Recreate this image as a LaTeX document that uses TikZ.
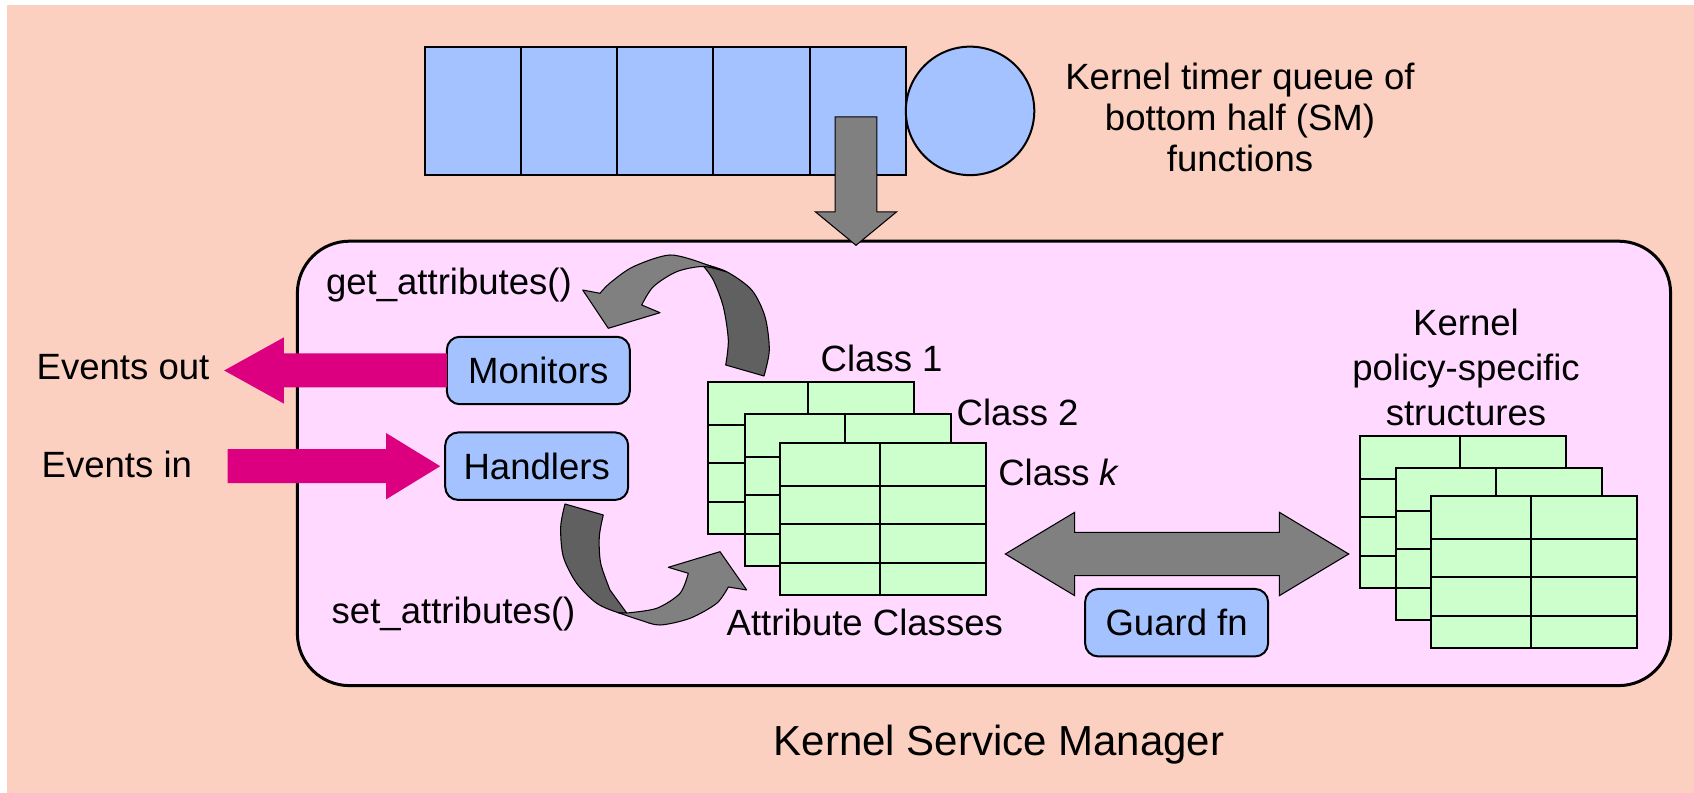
\documentclass[tikz,border=0pt]{standalone}
\usepackage{fontspec}
\setmainfont{Liberation Sans}
\usetikzlibrary{shapes.arrows, positioning, calc}

\definecolor{peach}{RGB}{251,208,192}
\definecolor{lilac}{RGB}{255,217,255}
\definecolor{boxblue}{RGB}{164,194,255}
\definecolor{tablegreen}{RGB}{204,255,204}
\definecolor{eventpink}{RGB}{220,0,128}
\definecolor{arrowgray}{RGB}{128,128,128}
\definecolor{arrowdark}{RGB}{96,96,96}

\tikzset{
  lbl/.style = {font=\fontsize{20.8}{25}\selectfont},
  manager/.style = {
    draw, line width=0.06cm, fill=lilac, rounded corners=1.04cm,
    minimum width=27.47cm, minimum height=8.89cm
  },
  qcell/.style = {
    draw, line width=0.04cm, fill=boxblue,
    minimum width=1.924cm, minimum height=2.566cm
  },
  tick/.style = {
    circle, draw, line width=0.04cm, fill=boxblue, minimum size=2.57cm
  },
  fnbox/.style = {
    lbl, draw, line width=0.04cm, fill=boxblue, rounded corners=0.26cm,
    minimum width=3.66cm, minimum height=1.35cm
  },
  blockgray/.style = {fill=arrowgray, draw=black, line width=0.6pt},
  ribbon/.style = {draw=black, line width=0.6pt, line join=round},
  eventarrow/.style = {
    single arrow, fill=eventpink, inner ysep=0.333cm,
    single arrow head extend=0.322cm
  },
  tableline/.style = {draw=black, line width=0.035cm},
  pics/datatable/.style = {code={
    \filldraw[tableline, fill=tablegreen] (0,0) rectangle (206,152);
    \draw[tableline] (100,0) -- (100,152);
    \foreach \r in {43,81,120}
      \draw[tableline] (0,\r) -- (206,\r);
  }}
}

\begin{document}
\begin{tikzpicture}[x=0.02cm, y=-0.02cm,
  every node/.style={inner sep=0pt, outer sep=0pt}]

  \useasboundingbox (0,0) rectangle (1694,793);
  \fill[peach] (7,5) rectangle (1694,793);

  % Service manager frame
  \node[manager] (ksm) at (984,463.4) {};

  % Timer queue
  \node[qcell] (q1) at (473,110.9) {};
  \foreach \i/\j in {1/2,2/3,3/4,4/5}
    \node[qcell, right=0pt of q\i] (q\j) {};
  \node[tick, right=0pt of q5] (tick) {};
  \node[lbl, anchor=north, align=center, font=\fontsize{20.8}{23.3}\selectfont]
    (timerlbl) at (1240,63.4) {Kernel timer queue of\\bottom half (SM)\\functions};

  \node[blockgray, single arrow, rotate=-90, minimum height=2.568cm,
    inner ysep=0.407cm, single arrow head extend=0.393cm,
    single arrow tip angle=101] (dequeue) at (856,172.5) {};

  % Monitors and handlers
  \node[fnbox] (monitors) at (538.3,370.5) {Monitors};
  \node[fnbox] (handlers) at (536.7,466.2) {Handlers};

  \node[eventarrow, rotate=180, anchor=tail, minimum height=4.454cm,
    single arrow tip angle=58] (evout) at (monitors.west) {};
  \node[eventarrow, anchor=tip, minimum height=4.254cm,
    single arrow tip angle=63] (evin) at ([xshift=-0.1cm]handlers.west) {};
  \node[lbl, anchor=base west] (outlbl) at (36.7,380) {Events out};
  \node[lbl, anchor=base west] (inlbl) at (41.7,478) {Events in};

  \node[lbl, anchor=base west] (getlbl) at (326,295) {get\_attributes()};
  \node[lbl, anchor=base west] (setlbl) at (331.7,623) {set\_attributes()};

  % Attribute classes
  \pic (cls1) at (708.3,382.3) {datatable};
  \pic (cls2) at (745,414) {datatable};
  \pic (clsk) at (780,442.7) {datatable};
  \node[lbl, anchor=base west] (c1lbl) at (820.7,371.7) {Class 1};
  \node[lbl, anchor=base west] (c2lbl) at (956.7,425.7) {Class 2};
  \node[lbl, anchor=base west] (cklbl) at (998.3,486) {Class \textit{k}};
  \node[lbl, anchor=base west] (attrlbl) at (726.7,635) {Attribute Classes};

  % get_attributes() ribbon
  \filldraw[ribbon, fill=arrowdark]
    plot[smooth] coordinates {(703.3,264) (726.7,271.7) (751.7,290)
      (765,316.7) (769.3,350) (764,376)}
    -- plot[smooth] coordinates {(725.7,365) (728.3,340) (723.3,306.7)
      (713.3,280) (703.3,266)} -- cycle;
  \filldraw[ribbon, fill=arrowgray]
    (600,293.3) -- (582.7,290) -- (608.3,328.3) -- (660,312.7)
    -- plot[smooth] coordinates {(641.7,305) (653.3,286.7) (676.7,271.7)
      (703.3,266.5) (726.7,272)}
    -- plot[smooth] coordinates {(703.3,263.5) (670,255) (633.3,266.7)
      (610,283) (600,293.3)} -- cycle;

  % set_attributes() ribbon
  \filldraw[ribbon, fill=arrowdark]
    plot[smooth] coordinates {(565,504) (560.7,526.7) (563.3,556.7)
      (576.7,583.3) (596.7,603.3) (618.3,612.7) (626.7,613)}
    -- plot[smooth] coordinates {(610,590) (600.7,563.3) (599.3,536.7)
      (603.3,515)} -- cycle;
  \filldraw[ribbon, fill=arrowgray]
    plot[smooth] coordinates {(618.3,612.7) (640,620) (660,625)
      (690,618.3) (716.7,603.3) (728.3,587)}
    -- (746.7,590) -- (720,551.7) -- (668.3,567.3)
    -- plot[smooth] coordinates {(688.3,573.3) (680,593.3) (656.7,608.3)
      (626.7,613)} -- cycle;

  % Guard between classes and policy structures
  \node[blockgray, double arrow, minimum height=6.87cm, inner ysep=0.423cm,
    double arrow head extend=0.4cm, double arrow tip angle=62]
    (guardarrow) at (1177,554) {};
  \node[fnbox] (guard) at (1176.6,622.7) {Guard fn};

  % Policy-specific structures
  \pic (pol1) at (1360,436) {datatable};
  \pic (pol2) at (1396,467.7) {datatable};
  \pic (pol3) at (1430.7,496) {datatable};
  \node[lbl, anchor=north, align=center, font=\fontsize{20.8}{25.4}\selectfont]
    (pollbl) at (1466,309.5) {Kernel\\policy-specific\\structures};

  \node[anchor=base, font=\fontsize{23.9}{28}\selectfont] (title)
    at (999,755.7) {Kernel Service Manager};

\end{tikzpicture}
\end{document}
